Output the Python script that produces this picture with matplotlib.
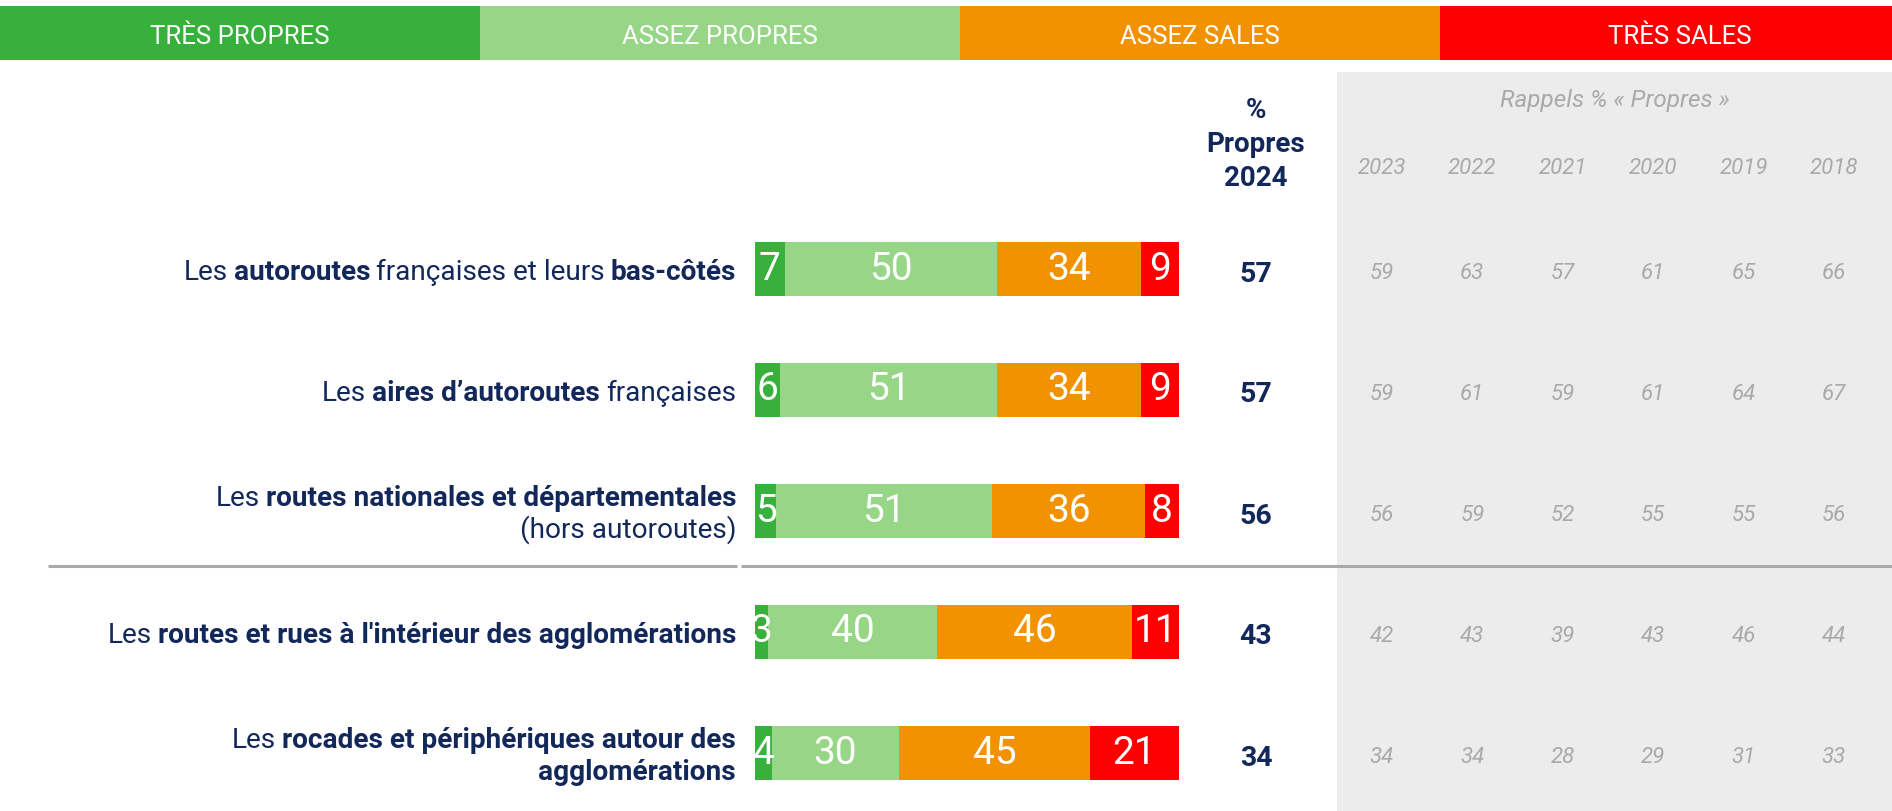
import numpy as np
import matplotlib
matplotlib.use("Agg")
import matplotlib.pyplot as plt

plt.rcParams["font.family"] = ["Roboto", "DejaVu Sans"]

# ── data ─────────────────────────────────────────────────────────────────────
categories = ["TRÈS PROPRES", "ASSEZ PROPRES", "ASSEZ SALES", "TRÈS SALES"]
cat_colors = ["#38b03c", "#96d686", "#f39200", "#fe0000"]

# each label is a list of lines, each line a list of (text, bold)
row_labels = [
    [[("Les", False), ("autoroutes", True), ("françaises et leurs", False), ("bas-côtés", True)]],
    [[("Les", False), ("aires d’autoroutes", True), ("françaises", False)]],
    [[("Les", False), ("routes nationales et départementales", True)],
     [("(hors autoroutes)", False)]],
    [[("Les", False), ("routes et rues à l'intérieur des agglomérations", True)]],
    [[("Les", False), ("rocades et périphériques autour des", True)],
     [("agglomérations", True)]],
]

tres_propres = [7, 6, 5, 3, 4]
assez_propres = [50, 51, 51, 40, 30]
assez_sales = [34, 34, 36, 46, 45]
tres_sales = [9, 9, 8, 11, 21]
propres_2024 = [57, 57, 56, 43, 34]

years = ["2023", "2022", "2021", "2020", "2019", "2018"]
rappels = [
    [59, 63, 57, 61, 65, 66],
    [59, 61, 59, 61, 64, 67],
    [56, 59, 52, 55, 55, 56],
    [42, 43, 39, 43, 46, 44],
    [34, 34, 28, 29, 31, 33],
]

# ── layout (pixels) ──────────────────────────────────────────────────────────
W, H = 1892, 811
NAVY = "#13285a"
GREY_TXT = "#a9a9a9"
ROW_Y0, ROW_STEP = 269, 121
BAR_X0, BAR_W = 755, 424
LABEL_X = 736
PCT_X = 1256
YEAR_X0, YEAR_STEP = 1382, 90.4
PANEL_X, PANEL_Y = 1337, 72

fig = plt.figure(figsize=(W / 100, H / 100), dpi=100)
fig.patch.set_facecolor("white")

ax = fig.add_axes([0, 0, 1, 1])
ax.set_xlim(0, W)
ax.set_ylim(H, 0)
ax.axis("off")

# header band
for i, (cat, col) in enumerate(zip(categories, cat_colors)):
    x0 = i * 480
    x1 = W if i == len(categories) - 1 else x0 + 480
    ax.add_patch(plt.Rectangle((x0, 6), x1 - x0, 54, color=col, lw=0))
    ax.text(x0 + 240, 35, cat, ha="center", va="center_baseline",
            color="white", fontsize=18.5)

# grey recall panel
ax.add_patch(plt.Rectangle((PANEL_X, PANEL_Y), W - PANEL_X, H - PANEL_Y,
                           color="#ececec", lw=0, zorder=0))
ax.text((PANEL_X + W) / 2, 100, "Rappels % « Propres »", ha="center",
        va="center", color=GREY_TXT, fontsize=17.5, style="italic")
for j, yr in enumerate(years):
    ax.text(YEAR_X0 + j * YEAR_STEP, 168, yr, ha="center", va="center",
            color=GREY_TXT, fontsize=16, style="italic")

# "% Propres 2024" header
for txt, y in zip(["%", "Propres", "2024"], [110, 145, 178]):
    ax.text(PCT_X, y, txt, ha="center", va="center", color=NAVY,
            fontsize=20, fontweight="bold")

# separator line
ax.plot([48, 737], [566, 566], color="#a8a8a8", lw=2.2, solid_capstyle="butt")
ax.plot([741, W], [566, 566], color="#a8a8a8", lw=2.2, solid_capstyle="butt")


def rich_right(x, y, parts, size=20.2, gap=6):
    """Right-aligned line made of regular / bold pieces."""
    prev = None
    for txt, bold in reversed(parts):
        kw = dict(color=NAVY, fontsize=size,
                  fontweight="bold" if bold else "normal")
        if prev is None:
            prev = ax.text(x, y, txt, ha="right", va="baseline", **kw)
        else:
            prev = ax.annotate(txt, xy=(0, 0), xycoords=prev,
                               xytext=(-gap, 0), textcoords="offset pixels",
                               ha="right", va="bottom", **kw)


for i, lines in enumerate(row_labels):
    yc = ROW_Y0 + i * ROW_STEP
    n = len(lines)
    for k, line in enumerate(lines):
        base = yc + 11 + (k - (n - 1) / 2) * 31
        rich_right(LABEL_X, base, line)

    ax.text(PCT_X, yc + 2, str(propres_2024[i]), ha="center",
            va="center_baseline", color=NAVY, fontsize=20.5, fontweight="bold")
    for j, v in enumerate(rappels[i]):
        ax.text(YEAR_X0 + j * YEAR_STEP, yc + 2, str(v), ha="center",
                va="center_baseline", color=GREY_TXT, fontsize=16,
                style="italic")

# stacked bars
axb = fig.add_axes([BAR_X0 / W, 0, BAR_W / W, 1])
axb.set_xlim(0, 100)
axb.set_ylim((H - ROW_Y0) / ROW_STEP, -ROW_Y0 / ROW_STEP)
axb.axis("off")

ypos = np.arange(len(row_labels))
series = [tres_propres, assez_propres, assez_sales, tres_sales]
left = np.zeros(len(ypos))
for vals, col in zip(series, cat_colors):
    bars = axb.barh(ypos, vals, left=left, height=54 / ROW_STEP, color=col, lw=0)
    axb.bar_label(bars, labels=[str(v) for v in vals], label_type="center",
                  color="white", fontsize=28)
    left += np.array(vals)

fig.savefig("out.png", dpi=100)
